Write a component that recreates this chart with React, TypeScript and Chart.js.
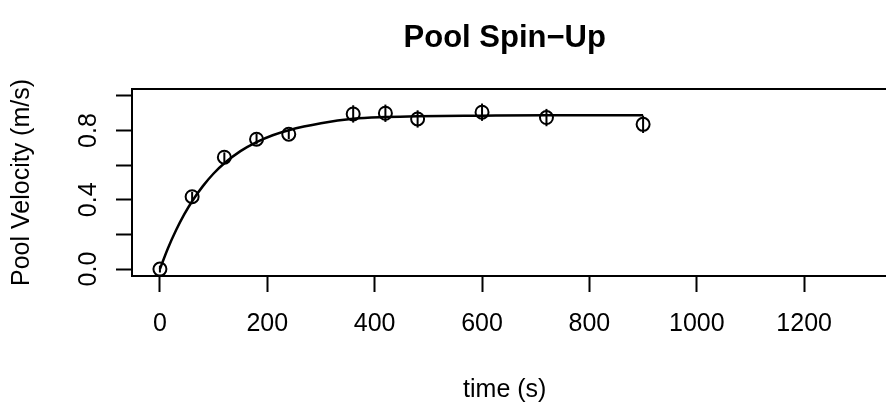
import React, { useEffect, useRef } from "react";
import { Chart, registerables } from "chart.js";
Chart.register(...registerables);

const TIME_S = [0, 60, 120, 180, 240, 360, 420, 480, 600, 720, 900];
const VELOCITY = [0.0, 0.418, 0.646, 0.75, 0.779, 0.896, 0.9, 0.867, 0.906, 0.875, 0.836];
const VELOCITY_ERR = [0.02, 0.028, 0.028, 0.03, 0.028, 0.05, 0.05, 0.05, 0.05, 0.05, 0.05];
const FIT_TIME = [0, 15, 30, 45, 60, 80, 100, 120, 150, 180, 210, 240, 300, 360, 420, 480, 600, 720, 900];
const FIT_VELOCITY = [0, 0.12, 0.224, 0.314, 0.392, 0.479, 0.552, 0.611, 0.681, 0.733, 0.773, 0.802, 0.842, 0.868, 0.878, 0.883, 0.886, 0.888, 0.888];
const X_TICKS = [0, 200, 400, 600, 800, 1000, 1200];
const Y_TICKS = [0, 0.2, 0.4, 0.6, 0.8, 1.0];
const Y_TICK_LABELS = [0, 0.4, 0.8];
const TITLE = "Pool Spin\u2212Up";
const X_TITLE = "time (s)";
const Y_TITLE = "Pool Velocity (m/s)";

const FONT = "'Liberation Sans', Arial, Helvetica, sans-serif";

export default function App() {
  const ref = useRef<HTMLCanvasElement>(null);
  useEffect(() => {
    document.body.style.margin = "0";
    document.body.style.overflow = "hidden";
    const canvas = ref.current!;
    const rPlugin = {
      id: "rbox",
      afterDatasetsDraw(chart: any) {
        const { ctx, chartArea: a, scales } = chart;
        const xs = scales.x;
        const ys = scales.y;
        ctx.save();
        ctx.strokeStyle = "#000";
        ctx.lineWidth = 2;
        TIME_S.forEach((t, i) => {
          const x = xs.getPixelForValue(t);
          ctx.beginPath();
          ctx.moveTo(x, ys.getPixelForValue(VELOCITY[i] - VELOCITY_ERR[i]));
          ctx.lineTo(x, ys.getPixelForValue(VELOCITY[i] + VELOCITY_ERR[i]));
          ctx.stroke();
        });
        ctx.strokeRect(a.left, a.top, a.right - a.left + 20, a.bottom - a.top);
        ctx.fillStyle = "#000";
        ctx.font = `25px ${FONT}`;
        ctx.textAlign = "center";
        ctx.textBaseline = "middle";
        Y_TICK_LABELS.forEach((v) => {
          const y = ys.getPixelForValue(v);
          ctx.save();
          ctx.translate(a.left - 43, y);
          ctx.rotate(-Math.PI / 2);
          ctx.fillText(v.toFixed(1), 0, 0);
          ctx.restore();
        });
        ctx.restore();
      },
    };
    const gridOpts = {
      drawOnChartArea: false,
      drawTicks: true,
      tickLength: 16,
      tickColor: "#000",
      tickWidth: 2,
    };
    const chart = new Chart(canvas, {
      type: "scatter",
      data: {
        datasets: [
          {
            type: "line",
            data: FIT_TIME.map((t, i) => ({ x: t, y: FIT_VELOCITY[i] })),
            borderColor: "#000",
            borderWidth: 2.5,
            pointRadius: 0,
            cubicInterpolationMode: "monotone",
            fill: false,
          } as any,
          {
            type: "scatter",
            data: TIME_S.map((t, i) => ({ x: t, y: VELOCITY[i] })),
            pointStyle: "circle",
            pointRadius: 6.5,
            borderColor: "#000",
            backgroundColor: "rgba(0,0,0,0)",
            borderWidth: 2,
            showLine: false,
          } as any,
        ],
      },
      options: {
        animation: false,
        responsive: false,
        devicePixelRatio: 1,
        layout: { padding: 0 },
        plugins: {
          legend: { display: false },
          tooltip: { enabled: false },
          title: {
            display: true,
            text: TITLE,
            fullSize: false,
            color: "#000",
            font: { family: FONT, size: 31, weight: "bold" },
            padding: { top: 20, bottom: 31.8 },
          },
        },
        scales: {
          x: {
            type: "linear",
            min: -52,
            max: 1336.6,
            afterBuildTicks: (s: any) => {
              s.ticks = X_TICKS.map((v) => ({ value: v }));
            },
            afterFit: (s: any) => {
              s.height = 131;
            },
            grid: gridOpts,
            border: { display: false },
            ticks: {
              color: "#000",
              font: { family: FONT, size: 25 },
              padding: 17,
              maxRotation: 0,
              autoSkip: false,
              callback: (v: any) => String(v),
            },
            title: {
              display: true,
              text: X_TITLE,
              color: "#000",
              font: { family: FONT, size: 25 },
              padding: { top: 0, bottom: 2 },
            },
          },
          y: {
            type: "linear",
            min: -0.04,
            max: 1.04,
            afterBuildTicks: (s: any) => {
              s.ticks = Y_TICKS.map((v) => ({ value: v }));
            },
            afterFit: (s: any) => {
              s.width = 132;
            },
            grid: gridOpts,
            border: { display: false },
            ticks: {
              color: "#000",
              font: { family: FONT, size: 25 },
              callback: () => "",
            },
            title: {
              display: true,
              text: Y_TITLE,
              color: "#000",
              font: { family: FONT, size: 25 },
              padding: { top: 7, bottom: 0 },
            },
          },
        },
      } as any,
      plugins: [rPlugin],
    });
    return () => chart.destroy();
  }, []);
  return (
    <canvas
      ref={ref}
      width={886}
      height={407}
      style={{ display: "block", width: 886, height: 407 }}
    />
  );
}
